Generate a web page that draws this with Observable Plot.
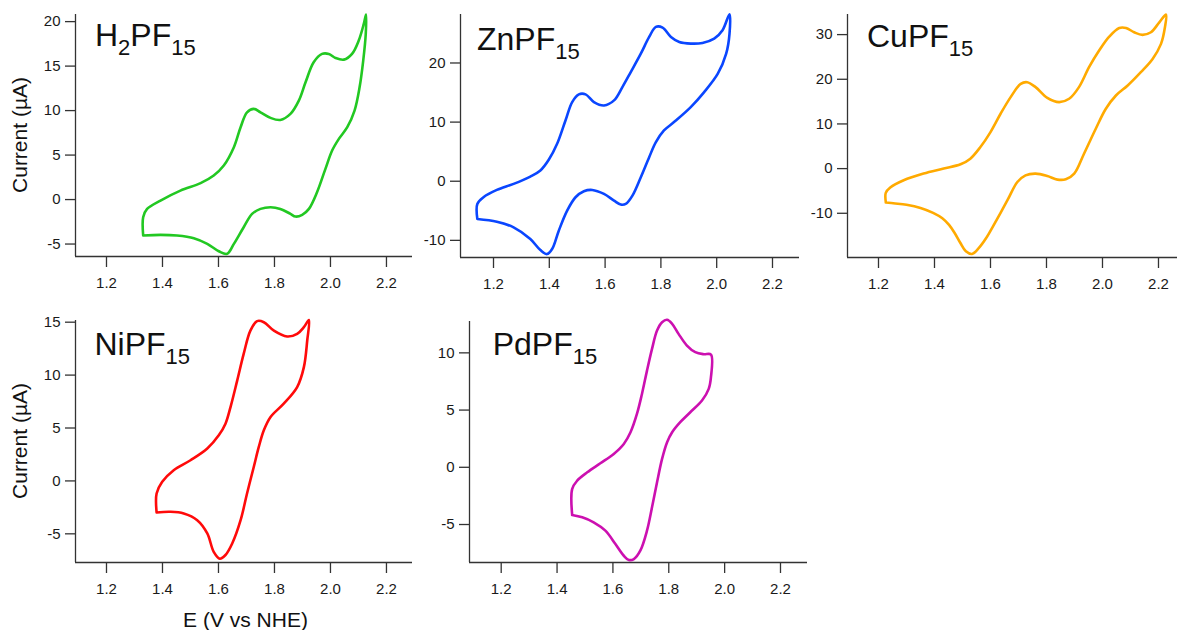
<!DOCTYPE html>
<html>
<head>
<meta charset="utf-8">
<script src="https://cdn.jsdelivr.net/npm/d3@7"></script>
<script src="https://cdn.jsdelivr.net/npm/@observablehq/plot@0.6"></script>
<style>
  body { margin: 0; background: #fff; }
  #page { position: relative; width: 1177px; height: 630px; overflow: hidden; background: #fff;
          font-family: "Liberation Sans", Arial, sans-serif; }
  .panel { position: absolute; }
  #overlay { position: absolute; left: 0; top: 0; }
</style>
</head>
<body>
<div id="page"></div>
<script>
// ---------- data ----------
const xTicks = [1.2, 1.4, 1.6, 1.8, 2.0, 2.2];
const xTitle = "E (V vs NHE)";
const yTitle = "Current (µA)";

// H2PF15
const h2E = [1.331,1.331,1.345,1.393,1.464,1.536,1.583,1.619,1.655,1.679,1.702,1.726,1.750,1.786,1.821,1.857,1.887,1.911,1.940,1.970,1.994,2.018,2.048,2.077,2.101,2.119,2.127,
             2.126,2.117,2.104,2.086,2.060,2.030,2.006,1.982,1.952,1.923,1.899,1.875,1.857,1.821,1.786,1.750,1.720,1.690,1.655,1.631,1.601,1.560,1.512,1.452,1.393,1.331];
const h2I = [-4.04,-1.98,-1.05,-0.11,1.01,1.84,2.70,3.82,5.88,8.13,9.81,10.19,9.81,9.18,8.95,9.63,11.12,13.18,15.43,16.37,16.37,15.92,15.73,16.37,17.87,19.74,20.79,
             18.61,15.62,12.62,10.0,8.13,6.82,5.51,3.45,0.82,-1.05,-1.72,-1.91,-1.61,-1.05,-0.86,-1.05,-1.61,-3.11,-4.98,-6.10,-5.81,-4.98,-4.34,-4.04,-3.97,-4.04];
const h2Ticks = [-5, 0, 5, 10, 15, 20];

// ZnPF15
const znE = [1.142,1.142,1.164,1.212,1.272,1.332,1.368,1.398,1.428,1.458,1.482,1.506,1.530,1.560,1.596,1.632,1.662,1.692,1.728,1.758,1.782,1.806,1.836,1.866,1.907,1.949,1.991,2.021,2.046,
             2.046,2.034,2.004,1.955,1.907,1.847,1.811,1.782,1.758,1.728,1.698,1.674,1.656,1.632,1.596,1.554,1.524,1.494,1.464,1.434,1.410,1.392,1.368,1.332,1.272,1.212,1.142];
const znI = [-6.38,-3.84,-2.71,-1.47,-0.45,0.79,1.81,3.62,6.33,10.28,13.39,14.69,14.69,13.39,12.82,13.67,15.93,18.47,21.58,24.41,26.10,25.99,24.41,23.56,23.28,23.39,24.12,25.54,28.25,
             24.97,21.58,18.19,15.08,12.54,10.0,8.59,6.61,4.07,0.68,-2.43,-3.84,-3.95,-3.28,-2.15,-1.47,-1.69,-2.71,-4.97,-8.36,-11.47,-12.32,-11.64,-9.77,-7.80,-6.84,-6.38];
const znTicks = [-10, 0, 10, 20];

// CuPF15
const cuE = [1.226,1.226,1.242,1.290,1.361,1.433,1.493,1.528,1.564,1.600,1.636,1.672,1.708,1.731,1.761,1.803,1.845,1.881,1.916,1.952,1.988,2.024,2.060,2.084,2.113,2.143,2.173,2.203,2.227,
             2.223,2.209,2.179,2.137,2.090,2.048,2.012,1.976,1.934,1.899,1.869,1.839,1.803,1.761,1.725,1.696,1.662,1.636,1.610,1.584,1.558,1.534,1.512,1.492,1.472,1.452,1.428,1.395,1.350,1.300,1.260,1.226];
const cuI = [-7.45,-5.44,-4.25,-2.61,-1.12,0.0,0.96,2.23,4.83,8.18,12.28,16.0,18.98,19.35,18.24,15.85,14.88,15.63,18.24,22.70,26.43,29.55,31.49,31.49,30.52,29.93,30.52,32.75,34.47,
             31.64,27.92,24.56,21.59,18.61,16.37,13.40,8.93,3.34,-1.12,-2.39,-2.46,-1.65,-1.12,-1.50,-2.99,-6.9,-9.9,-12.8,-15.6,-17.8,-19.1,-18.5,-16.6,-14.4,-12.6,-11.1,-9.9,-8.8,-8.1,-7.8,-7.6];
const cuTicks = [-10, 0, 10, 20, 30];

// NiPF15
const niE = [1.379,1.379,1.399,1.440,1.500,1.560,1.601,1.625,1.643,1.667,1.690,1.714,1.738,1.762,1.798,1.845,1.881,1.905,1.923,
             1.917,1.905,1.881,1.833,1.786,1.762,1.744,1.726,1.702,1.679,1.649,1.625,1.605,1.583,1.560,1.524,1.476,1.429,1.379];
const niI = [-2.98,-1.19,-0.09,1.01,1.95,3.06,4.31,5.41,6.98,9.5,12.0,14.2,15.1,15.0,14.2,13.65,13.9,14.53,15.2,
             13.27,10.75,8.87,7.3,6.04,4.78,3.21,1.32,-1.19,-3.71,-5.91,-7.0,-7.35,-6.7,-4.96,-3.71,-3.08,-2.92,-2.98];
const niTicks = [-5, 0, 5, 10, 15];

// PdPF15
const pdE = [1.454,1.454,1.472,1.508,1.555,1.603,1.639,1.663,1.686,1.704,1.722,1.740,1.758,1.776,1.794,1.812,1.835,1.865,1.895,1.925,1.951,
             1.951,1.943,1.919,1.877,1.841,1.812,1.794,1.776,1.758,1.740,1.722,1.698,1.675,1.657,1.639,1.609,1.573,1.531,1.490,1.454];
const pdI = [-4.14,-1.90,-1.17,-0.44,0.35,1.17,2.04,3.06,4.66,6.41,8.45,10.35,11.95,12.68,12.89,12.54,11.66,10.64,10.06,9.88,9.85,
             7.87,6.85,5.83,4.81,3.94,3.06,2.19,0.73,-1.31,-3.50,-5.54,-7.29,-8.02,-8.10,-7.73,-6.71,-5.54,-4.81,-4.37,-4.17];
const pdTicks = [-5, 0, 5, 10];

const names = ["H2PF15", "ZnPF15", "CuPF15", "NiPF15", "PdPF15"];
const colors = ["#22c822", "#0a46ff", "#ffaa00", "#ff0a0a", "#cc10b0"];

// ---------- layout ----------
const FONT = '"Liberation Sans", Arial, sans-serif';
const panels = [
  {E: h2E, I: h2I, ticks: h2Ticks, color: colors[0], left: 0,   top: 0,   width: 412, height: 296, ml: 75, mt: 14, mb: 40,
   xd: [1.0893, 2.293], yd: [-6.4, 20.8], lab: ["H", "2", "PF", "15"], lx: 95, ly: 46, yt: true},
  {E: znE, I: znI, ticks: znTicks, color: colors[1], left: 400, top: 0,   width: 399, height: 297, ml: 60, mt: 14, mb: 40,
   xd: [1.0817, 2.2968], yd: [-12.9, 28.2], lab: ["ZnPF", "15"], lx: 477, ly: 50},
  {E: cuE, I: cuI, ticks: cuTicks, color: colors[2], left: 790, top: 0,   width: 387, height: 297, ml: 57, mt: 14, mb: 40,
   xd: [1.0893, 2.2679], yd: [-19.9, 34.5], lab: ["CuPF", "15"], lx: 867, ly: 47},
  {E: niE, I: niI, ticks: niTicks, color: colors[3], left: 0,   top: 300, width: 412, height: 302, ml: 75, mt: 20, mb: 40,
   xd: [1.0893, 2.293], yd: [-7.71, 15.16], lab: ["NiPF", "15"], lx: 94.5, ly: 355, yt: true},
  {E: pdE, I: pdI, ticks: pdTicks, color: colors[4], left: 400, top: 300, width: 407, height: 302, ml: 69, mt: 21, mb: 40,
   xd: [1.0865, 2.2967], yd: [-8.32, 12.74], lab: ["PdPF", "15"], lx: 492.7, ly: 355}
];

const page = document.getElementById("page");

panels.forEach(p => {
  const rows = p.E.map((e, i) => ({E: e, I: p.I[i]}));
  const chart = Plot.plot({
    width: p.width, height: p.height,
    marginLeft: p.ml, marginRight: 0, marginTop: p.mt, marginBottom: p.mb,
    style: {background: "transparent", fontFamily: FONT, fontSize: "15px", color: "#1a1a1a", overflow: "visible"},
    x: {domain: p.xd},
    y: {domain: p.yd},
    marks: [
      Plot.ruleX([p.xd[0]], {stroke: "#333", strokeWidth: 1.3}),
      Plot.ruleY([p.yd[0]], {stroke: "#333", strokeWidth: 1.3}),
      Plot.axisX({ticks: xTicks, tickSize: 11, tickPadding: 10, tickFormat: d3.format(".1f"), label: null,
                  stroke: "#333", strokeWidth: 1.3, fontSize: 15, fill: "#1a1a1a"}),
      Plot.axisY({ticks: p.ticks, tickSize: 10, tickPadding: 5, tickFormat: d => String(d), label: null,
                  stroke: "#333", strokeWidth: 1.3, fontSize: 15, fill: "#1a1a1a"}),
      Plot.line(rows, {x: "E", y: "I", stroke: p.color, strokeWidth: 2.6, curve: "catmull-rom",
                       strokeLinejoin: "round", strokeLinecap: "round"})
    ]
  });
  const div = document.createElement("div");
  div.className = "panel";
  div.style.left = p.left + "px";
  div.style.top = p.top + "px";
  div.appendChild(chart);
  page.appendChild(div);
});

// ---------- text overlay ----------
const svg = d3.select(page).append("svg").attr("id", "overlay")
  .attr("width", 1177).attr("height", 630)
  .style("font-family", FONT).style("fill", "#111");

panels.forEach(p => {
  const t = svg.append("text").attr("x", p.lx).attr("y", p.ly).attr("font-size", 32);
  let shifted = false;
  p.lab.forEach(s => {
    const isSub = /^\d+$/.test(s);
    const ts = t.append("tspan").text(s);
    if (isSub) { ts.attr("font-size", 22).attr("dy", shifted ? 0 : 9); shifted = true; }
    else { ts.attr("dy", shifted ? -9 : 0); shifted = false; }
  });
  if (p.yt) {
    const cy = p.top + p.mt + (p.height - p.mb - p.mt) / 2;
    svg.append("text").attr("transform", `translate(27,${cy}) rotate(-90)`)
      .attr("text-anchor", "middle").attr("font-size", 21).text(yTitle);
  }
});
svg.append("text").attr("x", 245.5).attr("y", 627).attr("text-anchor", "middle")
  .attr("font-size", 21).text(xTitle);
</script>
</body>
</html>
